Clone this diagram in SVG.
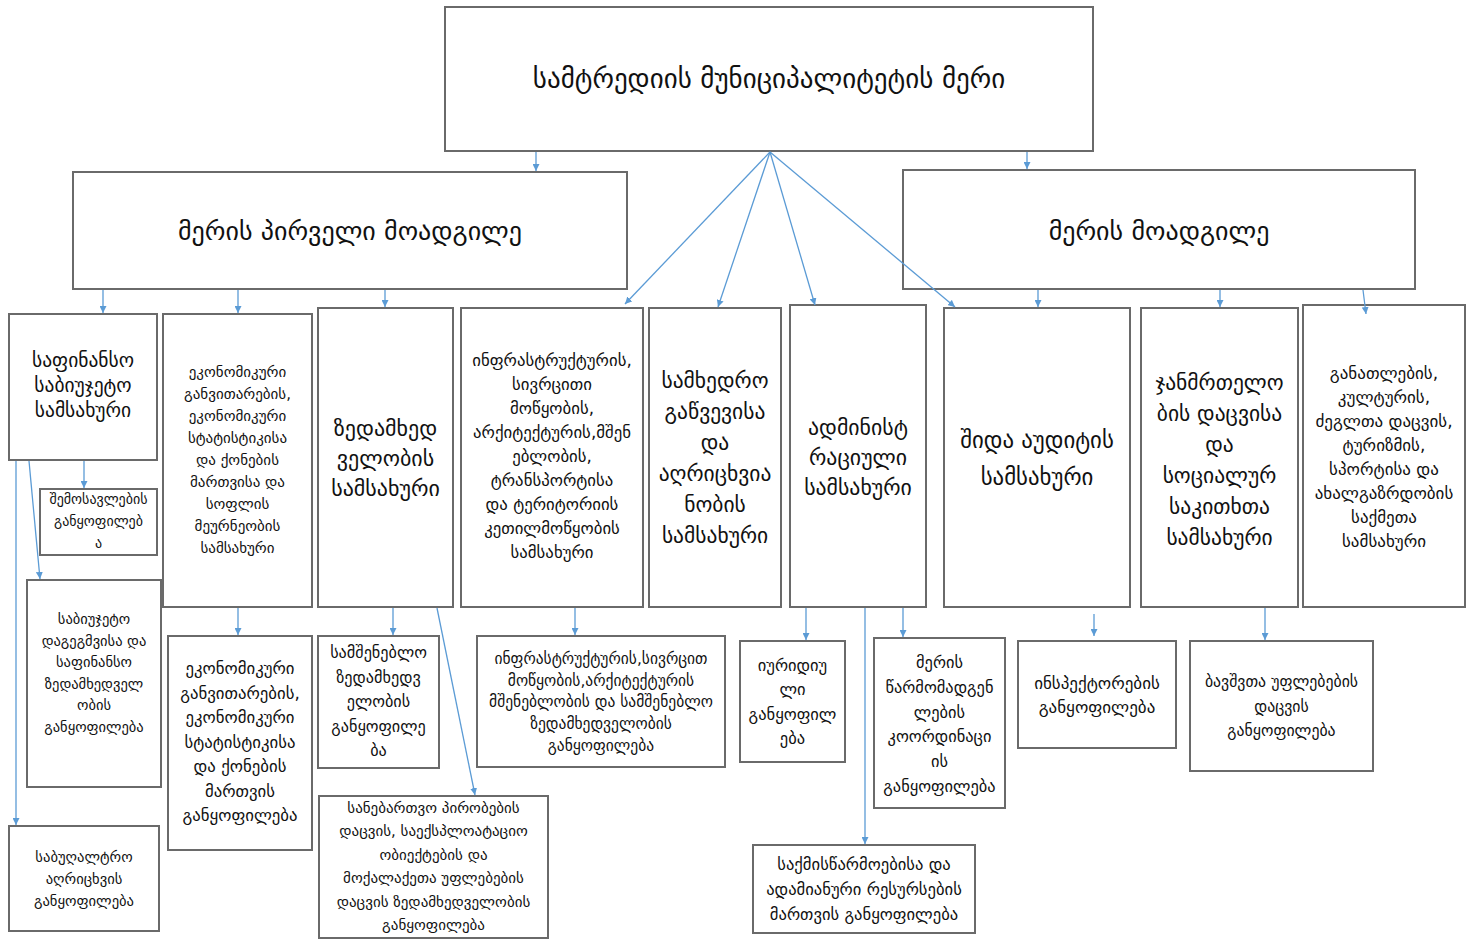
<svg xmlns="http://www.w3.org/2000/svg" width="1469" height="940" viewBox="0 0 1469 940">
<defs>
<marker id="ah" viewBox="0 0 10 10" refX="10" refY="5" markerWidth="7" markerHeight="7" markerUnits="userSpaceOnUse" orient="auto">
<path d="M0,0 L10,5 L0,10 z" fill="#5b9bd5"/>
</marker>
<style>
.box{fill:#ffffff;stroke:#6a6a6a;stroke-width:2}
.t{font-family:"DejaVu Sans","Noto Sans",sans-serif;fill:#111111;text-anchor:middle}
.c{stroke:#5b9bd5;stroke-width:1.3;fill:none;marker-end:url(#ah)}
</style>
</defs>
<rect width="1469" height="940" fill="#ffffff"/>

<g id="mayor">
<rect class="box" x="445" y="7" width="648" height="144"/>
<text class="t" font-size="27" x="769" y="88">სამტრედიის მუნიციპალიტეტის მერი</text>
</g>
<g id="first-deputy">
<rect class="box" x="73" y="172" width="554" height="117"/>
<text class="t" font-size="26" x="350" y="240">მერის პირველი მოადგილე</text>
</g>
<g id="deputy">
<rect class="box" x="903" y="170" width="512" height="119"/>
<text class="t" font-size="26" x="1159" y="240">მერის მოადგილე</text>
</g>

<g id="finance">
<rect class="box" x="9" y="314" width="148" height="146"/>
<text class="t" font-size="19.5" y="367"><tspan x="83">საფინანსო</tspan><tspan x="83" dy="25">საბიუჯეტო</tspan><tspan x="83" dy="25">სამსახური</tspan></text>
</g>
<g id="economy">
<rect class="box" x="163" y="314" width="149" height="293"/>
<text class="t" font-size="15" y="377"><tspan x="237.5">ეკონომიკური</tspan><tspan x="237.5" dy="22">განვითარების,</tspan><tspan x="237.5" dy="22">ეკონომიკური</tspan><tspan x="237.5" dy="22">სტატისტიკისა</tspan><tspan x="237.5" dy="22">და ქონების</tspan><tspan x="237.5" dy="22">მართვისა და</tspan><tspan x="237.5" dy="22">სოფლის</tspan><tspan x="237.5" dy="22">მეურნეობის</tspan><tspan x="237.5" dy="22">სამსახური</tspan></text>
</g>
<g id="supervision">
<rect class="box" x="318" y="308" width="135" height="299"/>
<text class="t" font-size="22" y="436"><tspan x="385.5">ზედამხედ</tspan><tspan x="385.5" dy="30">ველობის</tspan><tspan x="385.5" dy="30">სამსახური</tspan></text>
</g>
<g id="infrastructure">
<rect class="box" x="461" y="308" width="182" height="299"/>
<text class="t" font-size="16.8" y="366"><tspan x="552">ინფრასტრუქტურის,</tspan><tspan x="552" dy="24">სივრცითი</tspan><tspan x="552" dy="24">მოწყობის,</tspan><tspan x="552" dy="24">არქიტექტურის,მშენ</tspan><tspan x="552" dy="24">ებლობის,</tspan><tspan x="552" dy="24">ტრანსპორტისა</tspan><tspan x="552" dy="24">და ტერიტორიის</tspan><tspan x="552" dy="24">კეთილმოწყობის</tspan><tspan x="552" dy="24">სამსახური</tspan></text>
</g>
<g id="military">
<rect class="box" x="649" y="308" width="132" height="299"/>
<text class="t" font-size="21.5" y="388"><tspan x="715">სამხედრო</tspan><tspan x="715" dy="31">გაწვევისა</tspan><tspan x="715" dy="31">და</tspan><tspan x="715" dy="31">აღრიცხვია</tspan><tspan x="715" dy="31">ნობის</tspan><tspan x="715" dy="31">სამსახური</tspan></text>
</g>
<g id="administrative">
<rect class="box" x="790" y="305" width="136" height="302"/>
<text class="t" font-size="21.8" y="435"><tspan x="858">ადმინისტ</tspan><tspan x="858" dy="30">რაციული</tspan><tspan x="858" dy="30">სამსახური</tspan></text>
</g>
<g id="audit">
<rect class="box" x="944" y="308" width="186" height="299"/>
<text class="t" font-size="22.8" y="448"><tspan x="1037">შიდა აუდიტის</tspan><tspan x="1037" dy="37">სამსახური</tspan></text>
</g>
<g id="health">
<rect class="box" x="1141" y="308" width="157" height="299"/>
<text class="t" font-size="21.5" y="390"><tspan x="1219.5">ჯანმრთელო</tspan><tspan x="1219.5" dy="31">ბის დაცვისა</tspan><tspan x="1219.5" dy="31">და</tspan><tspan x="1219.5" dy="31">სოციალურ</tspan><tspan x="1219.5" dy="31">საკითხთა</tspan><tspan x="1219.5" dy="31">სამსახური</tspan></text>
</g>
<g id="education">
<rect class="box" x="1303" y="305" width="162" height="302"/>
<text class="t" font-size="17" y="379"><tspan x="1384">განათლების,</tspan><tspan x="1384" dy="24">კულტურის,</tspan><tspan x="1384" dy="24">ძეგლთა დაცვის,</tspan><tspan x="1384" dy="24">ტურიზმის,</tspan><tspan x="1384" dy="24">სპორტისა და</tspan><tspan x="1384" dy="24">ახალგაზრდობის</tspan><tspan x="1384" dy="24">საქმეთა</tspan><tspan x="1384" dy="24">სამსახური</tspan></text>
</g>

<g id="revenue">
<rect class="box" x="40" y="489" width="117" height="66"/>
<text class="t" font-size="14" y="504"><tspan x="98.5">შემოსავლების</tspan><tspan x="98.5" dy="22">განყოფილებ</tspan><tspan x="98.5" dy="22">ა</tspan></text>
</g>
<g id="budget-planning">
<rect class="box" x="27" y="580" width="134" height="207"/>
<text class="t" font-size="14.5" y="624"><tspan x="94">საბიუჯეტო</tspan><tspan x="94" dy="21.6">დაგეგმვისა და</tspan><tspan x="94" dy="21.6">საფინანსო</tspan><tspan x="94" dy="21.6">ზედამხედველ</tspan><tspan x="94" dy="21.6">ობის</tspan><tspan x="94" dy="21.6">განყოფილება</tspan></text>
</g>
<g id="accounting">
<rect class="box" x="9" y="826" width="150" height="105"/>
<text class="t" font-size="14.6" y="862"><tspan x="84">საბუღალტრო</tspan><tspan x="84" dy="22">აღრიცხვის</tspan><tspan x="84" dy="22">განყოფილება</tspan></text>
</g>
<g id="economy-division">
<rect class="box" x="168" y="636" width="144" height="214"/>
<text class="t" font-size="16.8" y="674"><tspan x="240">ეკონომიკური</tspan><tspan x="240" dy="24.5">განვითარების,</tspan><tspan x="240" dy="24.5">ეკონომიკური</tspan><tspan x="240" dy="24.5">სტატისტიკისა</tspan><tspan x="240" dy="24.5">და ქონების</tspan><tspan x="240" dy="24.5">მართვის</tspan><tspan x="240" dy="24.5">განყოფილება</tspan></text>
</g>
<g id="construction-supervision">
<rect class="box" x="318" y="636" width="121" height="132"/>
<text class="t" font-size="16.2" y="658"><tspan x="378.5">სამშენებლო</tspan><tspan x="378.5" dy="24.5">ზედამხედვ</tspan><tspan x="378.5" dy="24.5">ელობის</tspan><tspan x="378.5" dy="24.5">განყოფილე</tspan><tspan x="378.5" dy="24.5">ბა</tspan></text>
</g>
<g id="permit-supervision">
<rect class="box" x="319" y="796" width="229" height="142"/>
<text class="t" font-size="15" y="813"><tspan x="433.5">სანებართვო პირობების</tspan><tspan x="433.5" dy="23.4">დაცვის, საექსპლოატაციო</tspan><tspan x="433.5" dy="23.4">ობიექტების და</tspan><tspan x="433.5" dy="23.4">მოქალაქეთა უფლებების</tspan><tspan x="433.5" dy="23.4">დაცვის ზედამხედველობის</tspan><tspan x="433.5" dy="23.4">განყოფილება</tspan></text>
</g>
<g id="infrastructure-division">
<rect class="box" x="477" y="636" width="248" height="131"/>
<text class="t" font-size="15.5" y="664"><tspan x="601">ინფრასტრუქტურის,სივრცით</tspan><tspan x="601" dy="21.7">მოწყობის,არქიტექტურის</tspan><tspan x="601" dy="21.7">მშენებლობის და სამშენებლო</tspan><tspan x="601" dy="21.7">ზედამხედველობის</tspan><tspan x="601" dy="21.7">განყოფილება</tspan></text>
</g>
<g id="legal">
<rect class="box" x="740" y="641" width="105" height="121"/>
<text class="t" font-size="16.5" y="671"><tspan x="792.5">იურიდიუ</tspan><tspan x="792.5" dy="24.3">ლი</tspan><tspan x="792.5" dy="24.3">განყოფილ</tspan><tspan x="792.5" dy="24.3">ება</tspan></text>
</g>
<g id="representatives">
<rect class="box" x="874" y="638" width="131" height="170"/>
<text class="t" font-size="16.4" y="668"><tspan x="939.5">მერის</tspan><tspan x="939.5" dy="24.8">წარმომადგენ</tspan><tspan x="939.5" dy="24.8">ლების</tspan><tspan x="939.5" dy="24.8">კოორდინაცი</tspan><tspan x="939.5" dy="24.8">ის</tspan><tspan x="939.5" dy="24.8">განყოფილება</tspan></text>
</g>
<g id="records-hr">
<rect class="box" x="753" y="845" width="222" height="88"/>
<text class="t" font-size="16.6" y="870"><tspan x="864">საქმისწარმოებისა და</tspan><tspan x="864" dy="25">ადამიანური რესურსების</tspan><tspan x="864" dy="25">მართვის განყოფილება</tspan></text>
</g>
<g id="inspectors">
<rect class="box" x="1018" y="641" width="158" height="107"/>
<text class="t" font-size="17" y="689"><tspan x="1097">ინსპექტორების</tspan><tspan x="1097" dy="24">განყოფილება</tspan></text>
</g>
<g id="child-rights">
<rect class="box" x="1190" y="641" width="183" height="130"/>
<text class="t" font-size="15.8" y="687"><tspan x="1281.5">ბავშვთა უფლებების</tspan><tspan x="1281.5" dy="24.5">დაცვის</tspan><tspan x="1281.5" dy="24.5">განყოფილება</tspan></text>
</g>

<g id="connectors">
<line class="c" x1="536" y1="152" x2="536" y2="171"/>
<line class="c" x1="1027" y1="152" x2="1027" y2="169"/>
<line class="c" x1="770" y1="152" x2="625" y2="304"/>
<line class="c" x1="770" y1="152" x2="718" y2="307"/>
<line class="c" x1="770" y1="152" x2="815" y2="305"/>
<line class="c" x1="770" y1="152" x2="955" y2="307"/>
<line class="c" x1="103" y1="290" x2="103" y2="313"/>
<line class="c" x1="238" y1="290" x2="238" y2="313"/>
<line class="c" x1="385" y1="290" x2="385" y2="307"/>
<line class="c" x1="1038" y1="290" x2="1038" y2="307"/>
<line class="c" x1="1220" y1="290" x2="1220" y2="307"/>
<line class="c" x1="1363" y1="290" x2="1366" y2="314"/>
<line class="c" x1="84" y1="461" x2="84" y2="488"/>
<line class="c" x1="16" y1="461" x2="16" y2="825"/>
<line class="c" x1="29" y1="461" x2="40" y2="579"/>
<line class="c" x1="238" y1="608" x2="238" y2="635"/>
<line class="c" x1="393" y1="608" x2="393" y2="635"/>
<line class="c" x1="437" y1="608" x2="475" y2="795"/>
<line class="c" x1="575" y1="608" x2="575" y2="635"/>
<line class="c" x1="806" y1="608" x2="806" y2="640"/>
<line class="c" x1="865" y1="608" x2="865" y2="844"/>
<line class="c" x1="903" y1="608" x2="903" y2="637"/>
<line class="c" x1="1094" y1="614" x2="1094" y2="636"/>
<line class="c" x1="1265" y1="608" x2="1265" y2="640"/>
</g>
</svg>
